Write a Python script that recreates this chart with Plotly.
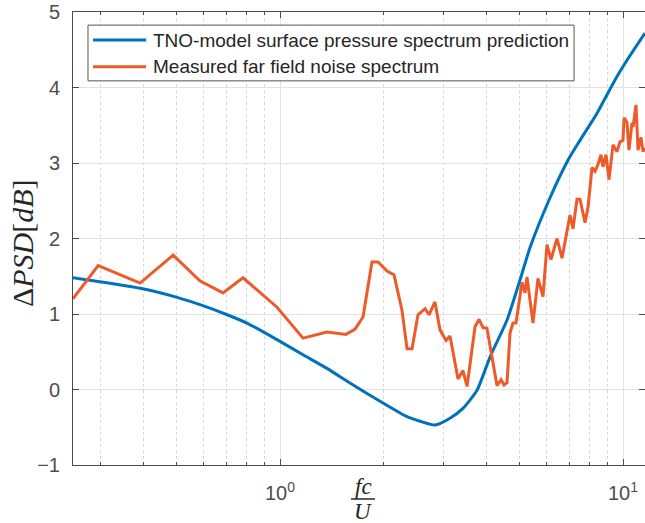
import plotly.graph_objects as go

# TNO-model surface pressure spectrum prediction
model_f = [0.249, 0.391, 0.501, 0.596, 0.701, 0.801, 0.980, 1.167, 1.371, 1.496, 1.867,
           2.346, 2.560, 2.830, 3.131, 3.415, 3.753, 4.095, 4.591, 5.009, 5.357, 6.127,
           6.917, 7.492, 8.40, 9.478, 10.27, 11.59]
model_dpsd = [1.48, 1.34, 1.22, 1.11, 0.99, 0.88, 0.66, 0.46, 0.28, 0.17, -0.10,
              -0.36, -0.42, -0.47, -0.38, -0.25, -0.01, 0.43, 0.92, 1.45, 1.88, 2.54,
              3.04, 3.30, 3.66, 4.10, 4.36, 4.72]

# Measured far field noise spectrum
meas_f = [0.249, 0.295, 0.391, 0.488, 0.584, 0.682, 0.780, 0.980, 1.167, 1.371,
          1.557, 1.655, 1.746, 1.854, 1.931, 2.051, 2.149, 2.268, 2.346, 2.426,
          2.525, 2.648, 2.719, 2.830, 2.927, 3.048, 3.131, 3.237, 3.303, 3.415,
          3.510, 3.703, 3.804, 3.907, 4.012, 4.293, 4.410, 4.500, 4.591, 4.684,
          4.779, 4.876, 5.076, 5.179, 5.249, 5.465, 5.651, 5.844, 6.003, 6.166,
          6.420, 6.640, 6.775, 7.006, 7.148, 7.343, 7.492, 7.748, 7.91, 8.121,
          8.286, 8.454, 8.627, 8.743, 8.920, 9.102, 9.350, 9.605, 9.800, 10.00,
          10.07, 10.27, 10.41, 10.62, 10.70, 10.91, 11.06, 11.28, 11.44, 11.59]
meas_dpsd = [1.20, 1.64, 1.41, 1.78, 1.44, 1.28, 1.48, 1.09, 0.68, 0.76,
             0.73, 0.80, 0.96, 1.69, 1.69, 1.57, 1.52, 1.05, 0.54, 0.54,
             0.99, 1.07, 0.99, 1.16, 0.79, 0.65, 0.71, 0.33, 0.14, 0.25,
             0.04, 0.83, 0.93, 0.82, 0.81, 0.05, 0.13, 0.06, 0.09, 0.75,
             0.88, 0.88, 1.42, 1.28, 1.49, 0.88, 1.47, 1.23, 1.92, 1.72,
             2.00, 1.74, 1.95, 2.31, 2.13, 2.52, 2.52, 2.21, 2.42, 2.94,
             2.89, 2.98, 3.11, 2.95, 3.11, 2.78, 3.24, 3.15, 3.28, 3.30,
             3.60, 3.54, 3.17, 3.53, 3.48, 3.77, 3.17, 3.34, 3.15, 3.20]

names = ['TNO-model surface pressure spectrum prediction', 'Measured far field noise spectrum']
colors = ['#0072BD', '#EE5A2A']

x_major = [1, 10]
x_major_text = ['10<sup>0</sup>', '10<sup>1</sup>']
x_minor = [0.3, 0.4, 0.5, 0.6, 0.7, 0.8, 0.9, 2, 3, 4, 5, 6, 7, 8, 9]
y_ticks = [-1, 0, 1, 2, 3, 4, 5]

tick_font = dict(family='Liberation Sans, Arial', size=20, color='#4d4d4d')
axis_col = '#4a4a4a'
grid_col = '#e2e2e2'

fig = go.Figure()
fig.add_trace(go.Scatter(x=model_f, y=model_dpsd, mode='lines', name=names[0],
                         line=dict(color=colors[0], width=3, shape='spline', smoothing=0.6)))
fig.add_trace(go.Scatter(x=meas_f, y=meas_dpsd, mode='lines', name=names[1],
                         line=dict(color=colors[1], width=3)))

fig.update_xaxes(type='log', range=[-0.6035, 1.0641], tickvals=x_major, ticktext=x_major_text,
                 ticks='inside', ticklen=6, tickcolor=axis_col, showline=True, linecolor=axis_col,
                 linewidth=1, mirror='allticks', showgrid=True, gridcolor=grid_col, zeroline=False,
                 tickfont=tick_font, automargin=False, ticklabelstandoff=10,
                 minor=dict(tickvals=x_minor, ticks='inside', ticklen=3, tickcolor=axis_col,
                            showgrid=True, gridcolor='#d6d6d6', griddash='dot', gridwidth=1))
fig.update_yaxes(range=[-1, 5], tickvals=y_ticks, ticks='inside', ticklen=6, tickcolor=axis_col,
                 showline=True, linecolor=axis_col, linewidth=1, mirror='allticks',
                 showgrid=True, gridcolor=grid_col, zeroline=False, tickfont=tick_font,
                 ticklabelstandoff=8, automargin=False)

# legend box drawn MATLAB-style
fig.add_shape(type='rect', xref='paper', yref='paper', x0=0.0262, x1=0.876, y0=0.848, y1=0.971,
              line=dict(color='#555555', width=1), fillcolor='white', layer='above')
for i, yy in enumerate([0.938, 0.879]):
    fig.add_shape(type='line', xref='paper', yref='paper', x0=0.035, x1=0.128, y0=yy, y1=yy,
                  line=dict(color=colors[i], width=3), layer='above')
    fig.add_annotation(xref='paper', yref='paper', x=0.136, y=yy, text=names[i], showarrow=False,
                       xanchor='left', yanchor='middle',
                       font=dict(family='Liberation Sans, Arial', size=19, color='#262626'))

# axis labels
serif = dict(family='Liberation Serif, DejaVu Serif', size=30, color='#262626')
fig.add_annotation(xref='paper', yref='paper', x=-0.089, y=0.49, text='Δ<i>PSD</i>[<i>dB</i>]',
                   textangle=-90, showarrow=False, xanchor='center', yanchor='middle', font=serif)
frac = dict(family='Liberation Serif, DejaVu Serif', size=23, color='#262626')
fig.add_annotation(xref='paper', yref='paper', x=0.507, y=-0.048, text='<i>fc</i>', showarrow=False,
                   xanchor='center', yanchor='middle', font=frac)
fig.add_annotation(xref='paper', yref='paper', x=0.507, y=-0.102, text='<i>U</i>', showarrow=False,
                   xanchor='center', yanchor='middle', font=frac)
fig.add_shape(type='line', xref='paper', yref='paper', x0=0.486, x1=0.528, y0=-0.075, y1=-0.075,
              line=dict(color='#262626', width=1.5))

fig.update_layout(width=645, height=523, showlegend=False,
                  margin=dict(l=73, r=0, t=12, b=58, autoexpand=False),
                  paper_bgcolor='white', plot_bgcolor='white')

# page margin off so the figure sits at the window's corner
fig.write_html("out.html", config={'displayModeBar': False},
               post_script="document.body.style.margin='0';document.body.style.overflow='hidden';")
